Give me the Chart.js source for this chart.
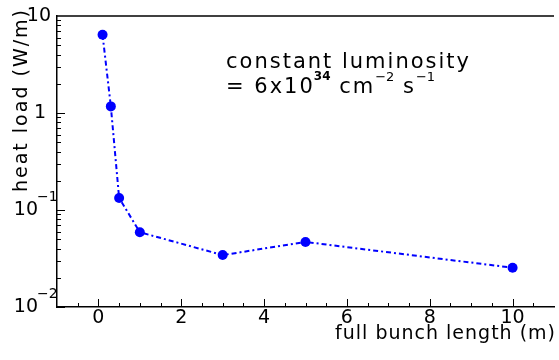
<!DOCTYPE html>
<html>
<head>
<meta charset="utf-8">
<script src="https://cdn.jsdelivr.net/npm/chart.js@4"></script>
<style>
  body { margin: 0; background: #fff; }
  canvas { display: block; }
</style>
</head>
<body>
<canvas id="chart" width="559" height="360"></canvas>
<script>
// data
const bunchLength = [0.1, 0.3, 0.5, 1, 3, 5, 10];
const heatLoad = [6.4, 1.17, 0.133, 0.059, 0.0343, 0.0468, 0.0254];

// axis ticks
const xTicks = [0, 2, 4, 6, 8, 10];
const yTicks = [10, 1, 0.1, 0.01];
const yTickBase = ["10", "1", "10", "10"];
const yTickSup = ["", "", "\u22121", "\u22122"];

const FONT = "'DejaVu Sans', sans-serif";

function drawRun(ctx, x, y, parts) {
  parts.forEach((p) => {
    ctx.font = p.font;
    ctx.letterSpacing = p.ls + "px";
    ctx.fillText(p.text, x, y - (p.up || 0));
    x += ctx.measureText(p.text).width + (p.gap || 0);
  });
  ctx.letterSpacing = "0px";
}

const frame = {
  id: "frame",
  afterDraw(chart) {
    const ctx = chart.ctx;
    const area = chart.chartArea;
    const xs = chart.scales.x;
    const ys = chart.scales.y;
    ctx.save();
    ctx.strokeStyle = "#000";
    ctx.fillStyle = "#000";

    // top edge of the frame
    ctx.lineWidth = 1.5;
    ctx.beginPath();
    ctx.moveTo(area.left, area.top);
    ctx.lineTo(area.right, area.top);
    ctx.stroke();

    // inward tick marks
    ctx.lineWidth = 1;
    ctx.beginPath();
    for (let v = -0.5; v <= 10.5; v += 0.5) {
      const px = Math.round(xs.getPixelForValue(v)) + 0.5;
      const len = xTicks.includes(v) ? 8 : 4;
      ctx.moveTo(px, area.bottom);
      ctx.lineTo(px, area.bottom - len);
    }
    for (let d = 0.01; d < 10; d *= 10) {
      for (let m = 1; m < 10; m++) {
        const py = Math.round(ys.getPixelForValue(d * m)) + 0.5;
        const len = m === 1 ? 8 : 4;
        ctx.moveTo(area.left, py);
        ctx.lineTo(area.left + len, py);
      }
    }
    ctx.stroke();

    // y tick labels with exponents
    ctx.textBaseline = "middle";
    yTicks.forEach((v, i) => {
      const py = ys.getPixelForValue(v);
      ctx.font = "19px " + FONT;
      if (yTickSup[i]) {
        ctx.textAlign = "right";
        ctx.fillText(yTickBase[i], 38, py);
        ctx.textAlign = "left";
        ctx.font = "14px " + FONT;
        ctx.fillText(yTickSup[i], 37, py - 13);
      } else {
        ctx.textAlign = "right";
        ctx.fillText(yTickBase[i], i === 0 ? 51 : 46, py);
      }
    });

    // axis titles
    ctx.textBaseline = "alphabetic";
    ctx.textAlign = "right";
    ctx.font = "19px " + FONT;
    ctx.letterSpacing = "1px";
    ctx.fillText("full bunch length (m)", area.right + 2, 339);
    ctx.save();
    ctx.translate(27, 8);
    ctx.rotate(-Math.PI / 2);
    ctx.font = "19px " + FONT;
    ctx.letterSpacing = "2px";
    ctx.fillText("heat load (W/m)", 0, 0);
    ctx.restore();
    ctx.letterSpacing = "0px";

    // annotation
    ctx.textAlign = "left";
    const big = "21px " + FONT;
    const sup = "13px " + FONT;
    drawRun(ctx, 226, 68, [{ text: "constant luminosity", font: big, ls: 2 }]);
    drawRun(ctx, 226, 93, [
      { text: "= 6x10", font: big, ls: 2, gap: -1 },
      { text: "34", font: "bold 12px " + FONT, ls: 0, up: 13 },
      { text: " cm", font: big, ls: 2 },
      { text: "\u22122", font: sup, ls: 0, up: 12 },
      { text: " s", font: big, ls: 2 },
      { text: "\u22121", font: sup, ls: 0, up: 12 },
    ]);
    ctx.restore();
  },
};

new Chart(document.getElementById("chart"), {
  type: "scatter",
  data: {
    datasets: [
      {
        data: bunchLength.map((x, i) => ({ x: x, y: heatLoad[i] })),
        showLine: true,
        borderColor: "#0000ff",
        backgroundColor: "#0000ff",
        borderWidth: 2,
        borderDash: [5, 3, 2, 3],
        pointRadius: 5,
        pointBorderWidth: 0,
        tension: 0,
      },
    ],
  },
  options: {
    responsive: false,
    animation: false,
    devicePixelRatio: 1,
    layout: { padding: { top: 16, right: 1, left: 0, bottom: 0 } },
    plugins: { legend: { display: false }, tooltip: { enabled: false } },
    scales: {
      x: {
        type: "linear",
        min: -1,
        max: 11,
        afterBuildTicks: (s) => {
          s.ticks = xTicks.map((v) => ({ value: v }));
        },
        afterFit: (s) => {
          s.height = 53;
        },
        ticks: {
          color: "#000",
          padding: 0,
          maxRotation: 0,
          autoSkip: false,
          font: { family: FONT, size: 19 },
        },
        grid: { display: false, drawTicks: false },
        border: { display: true, color: "#000", width: 1.5 },
      },
      y: {
        type: "logarithmic",
        min: 0.01,
        max: 10,
        afterFit: (s) => {
          s.width = 57;
        },
        ticks: { display: false },
        grid: { display: false, drawTicks: false },
        border: { display: true, color: "#000", width: 1.5 },
      },
    },
  },
  plugins: [frame],
});
</script>
</body>
</html>
